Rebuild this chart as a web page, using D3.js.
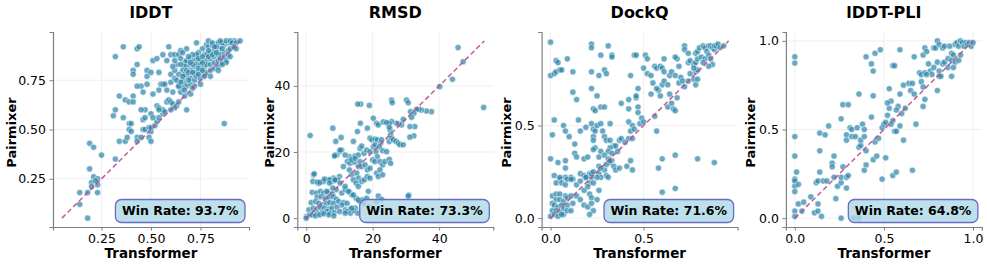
<!DOCTYPE html>
<html>
<head>
  <meta charset="utf-8">
  <script src="https://cdn.jsdelivr.net/npm/d3@7"></script>
  <style>
    body { margin: 0; background: #fff; }
    text { font-family: "DejaVu Sans", sans-serif; }
  </style>
</head>
<body>
<div id="chart"></div>
<script>

// panel titles and win rates
const titles = ["lDDT", "RMSD", "DockQ", "lDDT-PLI"];
const winRates = [93.7, 73.3, 71.6, 64.8];

// [transformer, pairmixer] pairs
const lddtPoints = [
  [0.18,0.05],[0.14,0.12],[0.14,0.18],[0.19,0.43],[0.21,0.41],[0.25,0.37],[0.19,0.30],[0.21,0.26],[0.23,0.25],[0.20,0.23],
  [0.20,0.21],[0.23,0.22],[0.18,0.18],[0.23,0.18],[0.22,0.24],[0.32,0.35],[0.34,0.44],[0.31,0.57],[0.32,0.60],[0.34,0.67],
  [0.36,0.56],[0.37,0.65],[0.39,0.64],[0.41,0.67],[0.41,0.64],[0.37,0.44],[0.38,0.46],[0.39,0.53],[0.40,0.53],[0.39,0.50],
  [0.40,0.49],[0.43,0.46],[0.43,0.44],[0.46,0.50],[0.45,0.46],[0.47,0.50],[0.49,0.46],[0.50,0.44],[0.50,0.49],[0.49,0.51],
  [0.50,0.51],[0.52,0.52],[0.53,0.54],[0.54,0.56],[0.56,0.58],[0.47,0.60],[0.46,0.55],[0.47,0.56],[0.50,0.58],[0.51,0.56],
  [0.45,0.60],[0.36,0.92],[0.32,0.87],[0.43,0.91],[0.44,0.92],[0.43,0.83],[0.41,0.80],[0.41,0.78],[0.48,0.80],[0.48,0.77],
  [0.50,0.79],[0.45,0.72],[0.43,0.72],[0.48,0.73],[0.46,0.69],[0.51,0.68],[0.54,0.70],[0.51,0.85],[0.53,0.86],[0.54,0.79],
  [0.56,0.88],[0.59,0.92],[0.58,0.85],[0.60,0.88],[0.62,0.88],[0.64,0.88],[0.55,0.73],[0.56,0.73],[0.57,0.73],[0.60,0.74],
  [0.60,0.78],[0.63,0.83],[0.65,0.86],[0.68,0.91],[0.68,0.83],[0.69,0.83],[0.73,0.94],[0.53,0.62],[0.54,0.61],[0.56,0.60],
  [0.54,0.60],[0.58,0.64],[0.59,0.65],[0.60,0.64],[0.61,0.63],[0.63,0.62],[0.64,0.64],[0.62,0.61],[0.61,0.69],[0.64,0.72],
  [0.65,0.69],[0.67,0.67],[0.68,0.60],[0.87,0.53],[0.58,0.70],[0.62,0.76],[0.66,0.75],[0.57,0.59],[0.60,0.60],
  [0.67,0.84],[0.68,0.85],[0.70,0.86],[0.72,0.85],[0.73,0.87],[0.75,0.85],[0.77,0.88],[0.78,0.88],[0.80,0.89],[0.82,0.90],
  [0.84,0.91],[0.85,0.92],[0.87,0.93],[0.89,0.94],[0.90,0.94],[0.92,0.95],[0.78,0.93],[0.79,0.92],[0.81,0.93],[0.83,0.93],
  [0.84,0.94],[0.86,0.94],[0.88,0.95],[0.90,0.95],[0.91,0.94],[0.93,0.94],[0.95,0.95],[0.78,0.85],[0.80,0.86],[0.82,0.87],
  [0.84,0.88],[0.85,0.88],[0.87,0.89],[0.89,0.90],[0.90,0.91],[0.92,0.92],[0.72,0.82],[0.73,0.83],[0.75,0.83],[0.77,0.82],
  [0.78,0.83],[0.80,0.83],[0.82,0.84],[0.84,0.85],[0.85,0.86],[0.87,0.87],[0.89,0.88],[0.70,0.80],[0.72,0.78],[0.73,0.79],
  [0.75,0.80],[0.77,0.78],[0.78,0.79],[0.80,0.80],[0.82,0.81],[0.84,0.82],[0.68,0.77],[0.70,0.76],[0.72,0.75],[0.73,0.77],
  [0.75,0.76],[0.77,0.77],[0.67,0.73],[0.68,0.72],[0.70,0.73],[0.72,0.72],[0.66,0.71],[0.67,0.70],[0.64,0.72],[0.76,0.91],
  [0.74,0.89],[0.73,0.88],[0.71,0.88],[0.69,0.87],[0.67,0.82],[0.66,0.80],[0.64,0.78],[0.62,0.80],[0.86,0.84],[0.88,0.85],
  [0.65,0.83],[0.67,0.78],[0.68,0.80],[0.71,0.83],[0.65,0.90],[0.66,0.89],[0.79,0.95],[0.81,0.94],[0.83,0.92],[0.85,0.95],
  [0.62,0.85],[0.61,0.82],[0.80,0.77],[0.84,0.80],[0.88,0.84],[0.90,0.87],[0.75,0.73],[0.86,0.83],[0.70,0.68],[0.93,0.91],
  [0.69,0.79],[0.71,0.79],[0.74,0.81],[0.76,0.84],[0.79,0.87],[0.81,0.88],[0.83,0.89],[0.86,0.91],[0.70,0.84],[0.74,0.86],
  [0.76,0.87],[0.79,0.90],[0.82,0.92],[0.66,0.77],[0.69,0.75],[0.71,0.71],[0.74,0.78],[0.76,0.80],[0.63,0.75],[0.65,0.74]
];

const rmsdPoints = [
  [45.7,51.6],[47.2,47.3],[44.0,42.0],[40.2,39.8],[53.4,33.5],[37.7,32.2],[36.2,32.4],[34.7,32.7],[34.0,32.9],[33.2,32.9],
  [30.2,35.7],[30.7,34.9],[31.4,32.2],[32.4,31.7],[31.7,30.5],[32.7,27.7],[32.4,24.9],[29.2,29.9],[28.7,28.2],[28.0,28.5],
  [27.2,28.7],[25.7,35.7],[25.9,34.9],[25.7,29.2],[25.0,28.7],[25.2,26.7],[25.4,25.2],[16.4,34.5],[15.5,34.5],[19.0,34.1],
  [20.2,30.2],[21.2,28.7],[21.7,28.2],[23.2,29.1],[24.2,28.9],[25.0,27.5],[16.3,28.7],[18.4,27.2],[15.4,26.2],[8.0,27.2],
  [1.2,25.0],[10.5,24.4],[14.2,23.2],[19.2,24.2],[19.7,23.7],[20.7,23.9],[21.4,23.7],[22.4,22.7],[22.7,23.7],[25.0,23.2],
  [25.7,24.2],[26.2,23.7],[27.0,23.2],[27.7,22.7],[28.2,22.2],[29.2,22.2],[31.2,24.5],[31.2,27.7],[10.0,20.1],[9.2,19.1],
  [10.7,20.6],[8.7,19.1],[8.5,18.8],[13.0,18.6],[13.7,18.1],[14.7,18.8],[15.7,19.1],[16.2,21.1],[16.7,21.8],[17.4,19.6],
  [18.2,20.6],[19.2,20.1],[20.2,21.6],[20.7,22.2],[22.0,21.6],[23.0,20.4],[24.2,20.1],[21.0,20.1],[21.4,18.6],[20.0,17.6],
  [20.7,17.1],[22.2,17.1],[23.0,16.1],[23.7,17.1],[25.0,17.8],[25.4,16.6],[11.7,19.1],[12.4,17.1],[13.2,16.6],[14.5,16.9],
  [15.7,15.6],[16.2,17.1],[16.7,15.6],[17.7,16.1],[18.4,14.6],[19.2,15.1],[11.2,15.6],[13.0,14.6],[13.7,13.1],[15.2,13.6],
  [15.7,12.1],[14.2,11.6],[15.0,10.6],[15.7,9.6],[16.7,11.1],[17.5,11.6],[18.4,12.6],[19.2,12.1],[21.2,13.6],[21.7,12.6],
  [22.2,14.6],[23.0,13.1],[18.7,8.1],[21.7,6.7],[30.9,7.0],[10.0,12.6],[9.5,11.6],[8.2,12.1],[7.7,11.1],[2.2,13.1],
  [2.0,11.1],[3.7,10.5],[5.2,11.1],[6.7,11.6],[9.0,8.6],[10.7,7.6],[11.7,8.6],[13.0,7.9],[13.7,7.1],[15.0,6.0],
  [16.2,5.0],[17.0,5.5],[18.2,6.0],[3.3,10.9],[4.1,10.8],[5.5,11.8],[7.1,11.6],[8.5,11.4],[1.8,7.8],[3.1,7.6],
  [4.3,8.1],[5.3,7.6],[6.5,7.8],[7.8,7.4],[3.3,6.3],[4.5,6.5],[5.8,6.0],[6.8,6.3],[8.1,6.5],[9.1,5.7],
  [1.5,4.7],[2.8,5.0],[3.8,4.5],[4.8,4.0],[6.1,4.5],[7.1,4.7],[8.3,4.5],[9.8,5.0],[11.3,4.7],[0.8,2.5],
  [2.1,3.0],[3.1,2.7],[4.3,3.3],[5.5,3.0],[6.8,2.7],[7.8,3.0],[9.3,3.3],[10.8,4.0],[12.3,4.5],[0.1,0.5],
  [1.1,1.0],[2.3,1.5],[3.5,1.3],[4.8,1.7],[6.3,2.0],[7.3,1.5],[8.5,1.7],[10.1,2.0],[11.8,2.5],[13.3,2.7],
  [14.8,3.0],[1.8,1.0],[2.8,0.7],[4.1,1.0],[5.3,1.3],[6.8,1.0],[8.3,0.7],[12.3,2.0],[13.3,1.5],[14.3,2.3],
  [15.5,1.5],[21.2,5.0],[22.7,5.7],[30.7,6.7],[17.2,4.5],[18.7,3.5],[11.7,1.5],[13.7,3.0],[7.0,10.6],[8.0,9.1],
  [8.7,11.6],[10.2,10.6],[11.7,9.6],[12.7,8.1],[6.2,8.1],[14.2,7.0],[15.7,5.5],[0.0,0.0],[8.9,23.2],[10.2,20.6],
  [13.7,17.6],[14.7,18.1],[2.4,13.4]
];

const dockqPoints = [
  [0.00,0.95],[0.22,0.94],[0.22,0.92],[0.31,0.93],[0.27,0.88],[0.33,0.88],[0.33,0.87],[0.03,0.85],[0.04,0.84],[0.09,0.86],
  [0.00,0.77],[0.02,0.78],[0.03,0.79],[0.05,0.80],[0.06,0.80],[0.12,0.79],[0.22,0.79],[0.26,0.77],[0.29,0.80],[0.30,0.78],
  [0.12,0.68],[0.22,0.70],[0.25,0.66],[0.14,0.64],[0.23,0.59],[0.24,0.58],[0.27,0.60],[0.29,0.60],[0.02,0.53],[0.01,0.45],
  [0.07,0.50],[0.08,0.47],[0.10,0.44],[0.13,0.40],[0.15,0.53],[0.16,0.47],[0.19,0.49],[0.22,0.51],[0.23,0.48],[0.23,0.44],
  [0.24,0.47],[0.25,0.50],[0.27,0.51],[0.28,0.47],[0.32,0.51],[0.29,0.44],[0.30,0.42],[0.32,0.42],[0.34,0.39],[0.38,0.62],
  [0.42,0.64],[0.42,0.59],[0.46,0.65],[0.47,0.60],[0.47,0.57],[0.42,0.52],[0.44,0.50],[0.43,0.47],[0.45,0.48],[0.49,0.54],
  [0.48,0.51],[0.50,0.52],[0.37,0.42],[0.38,0.43],[0.40,0.41],[0.42,0.43],[0.44,0.43],[0.35,0.39],[0.32,0.38],[0.31,0.36],
  [0.33,0.35],[0.36,0.36],[0.23,0.42],[0.24,0.38],[0.27,0.36],[0.26,0.33],[0.29,0.34],[0.31,0.32],[0.33,0.31],[0.00,0.32],
  [0.04,0.30],[0.08,0.31],[0.08,0.27],[0.13,0.35],[0.14,0.33],[0.18,0.32],[0.20,0.33],[0.23,0.37],[0.02,0.23],[0.05,0.21],
  [0.08,0.22],[0.11,0.22],[0.12,0.21],[0.16,0.24],[0.18,0.23],[0.19,0.22],[0.21,0.24],[0.22,0.22],[0.21,0.19],[0.23,0.19],
  [0.26,0.28],[0.26,0.24],[0.27,0.22],[0.29,0.26],[0.30,0.23],[0.31,0.22],[0.32,0.30],[0.34,0.28],[0.35,0.26],[0.37,0.27],
  [0.43,0.31],[0.41,0.28],[0.44,0.26],[0.58,0.27],[0.60,0.32],[0.67,0.34],[0.79,0.32],[0.88,0.30],[0.67,0.16],[0.60,0.14],
  [0.57,0.47],[0.56,0.55],[0.54,0.67],[0.58,0.69],[0.59,0.66],[0.47,0.70],[0.46,0.66],[0.43,0.77],[0.45,0.88],[0.46,0.88],
  [0.51,0.88],[0.52,0.86],[0.50,0.81],[0.52,0.78],[0.54,0.77],[0.56,0.82],[0.57,0.81],[0.59,0.82],[0.61,0.86],[0.60,0.81],
  [0.61,0.79],[0.55,0.73],[0.57,0.70],[0.60,0.72],[0.61,0.74],[0.63,0.72],[0.64,0.67],[0.64,0.77],[0.65,0.79],[0.67,0.77],
  [0.69,0.73],[0.68,0.86],[0.69,0.82],[0.67,0.87],[0.63,0.60],[0.66,0.59],[0.67,0.58],[0.65,0.62],[0.68,0.65],[0.72,0.93],
  [0.72,0.91],[0.74,0.89],[0.70,0.76],[0.71,0.74],[0.72,0.71],[0.74,0.74],[0.74,0.84],[0.75,0.85],[0.77,0.83],[0.78,0.84],
  [0.79,0.86],[0.78,0.79],[0.79,0.80],[0.77,0.81],[0.75,0.78],[0.77,0.75],[0.78,0.72],[0.79,0.75],[0.78,0.89],[0.79,0.90],
  [0.80,0.92],[0.82,0.93],[0.83,0.92],[0.84,0.90],[0.85,0.93],[0.86,0.93],[0.87,0.92],[0.88,0.91],[0.88,0.93],[0.89,0.93],
  [0.90,0.94],[0.91,0.92],[0.93,0.93],[0.81,0.87],[0.83,0.86],[0.85,0.88],[0.86,0.86],[0.87,0.83],[0.85,0.82],[0.82,0.84],
  [0.05,0.22],[0.03,0.19],[0.06,0.19],[0.08,0.18],[0.09,0.21],[0.11,0.21],[0.01,0.12],[0.03,0.13],[0.05,0.13],[0.08,0.12],
  [0.03,0.10],[0.05,0.10],[0.07,0.09],[0.09,0.11],[0.11,0.12],[0.01,0.08],[0.02,0.07],[0.04,0.06],[0.06,0.07],[0.07,0.05],
  [0.09,0.07],[0.12,0.08],[0.01,0.04],[0.03,0.04],[0.05,0.03],[0.07,0.02],[0.09,0.04],[0.00,0.01],[0.02,0.02],[0.04,0.01],
  [0.06,0.02],[0.11,0.04],[0.14,0.12],[0.16,0.10],[0.18,0.15],[0.20,0.17],[0.21,0.13],[0.22,0.11],[0.18,0.07],[0.20,0.06],
  [0.22,0.08],[0.23,0.04],[0.25,0.10],[0.26,0.15],[0.14,0.18],[0.16,0.20],[0.19,0.22],[0.22,0.24],[0.23,0.25],[0.25,0.22],
  [0.27,0.27],[0.30,0.29],[0.32,0.31],[0.21,0.02]
];

const pliPoints = [
  [0.00,0.91],[0.00,0.875],[0.00,0.46],[0.00,0.35],[0.00,0.22],[0.00,0.21],[0.00,0.18],[0.00,0.15],[0.00,0.04],[0.00,0.01],
  [0.01,0.26],[0.02,0.19],[0.02,0.08],[0.05,0.09],[0.09,0.12],[0.04,0.04],[0.11,0.03],[0.13,0.04],[0.13,0.08],[0.15,0.01],
  [0.12,0.20],[0.13,0.21],[0.14,0.26],[0.14,0.48],[0.17,0.47],[0.14,0.38],[0.16,0.21],[0.18,0.21],[0.19,0.52],[0.22,0.35],
  [0.21,0.31],[0.21,0.29],[0.22,0.23],[0.23,0.11],[0.24,0.18],[0.26,0.20],[0.26,0.23],[0.27,0.29],[0.29,0.23],[0.29,0.17],
  [0.30,0.24],[0.26,0.56],[0.27,0.64],[0.29,0.47],[0.30,0.64],[0.26,0.00],[0.29,0.44],[0.31,0.51],[0.32,0.50],[0.32,0.46],
  [0.34,0.46],[0.35,0.51],[0.36,0.70],[0.36,0.40],[0.37,0.41],[0.37,0.44],[0.38,0.53],[0.39,0.46],[0.39,0.50],[0.33,0.00],
  [0.36,0.00],[0.40,0.91],[0.43,0.87],[0.44,0.83],[0.45,0.93],[0.48,0.95],[0.44,0.69],[0.43,0.57],[0.40,0.38],[0.40,0.30],
  [0.39,0.27],[0.44,0.33],[0.46,0.35],[0.49,0.22],[0.51,0.34],[0.45,0.43],[0.47,0.45],[0.49,0.51],[0.50,0.53],[0.51,0.54],
  [0.52,0.58],[0.53,0.62],[0.54,0.66],[0.55,0.86],[0.56,0.86],[0.59,0.95],[0.61,0.75],[0.64,0.76],[0.66,0.76],[0.65,0.72],
  [0.59,0.70],[0.58,0.63],[0.57,0.61],[0.55,0.55],[0.56,0.49],[0.57,0.49],[0.59,0.52],[0.61,0.44],[0.60,0.59],[0.62,0.62],
  [0.54,0.53],[0.55,0.24],[0.57,0.26],[0.66,0.27],[0.68,0.53],[0.67,0.70],[0.71,0.77],[0.72,0.74],[0.73,0.67],[0.72,0.63],
  [0.53,0.73],[0.52,0.65],[0.67,0.91],[0.72,0.92],[0.73,0.96],[0.74,0.94],[0.75,0.87],[0.76,0.83],[0.77,0.81],[0.78,0.96],
  [0.79,0.96],[0.80,0.88],[0.81,0.83],[0.81,0.80],[0.83,0.87],[0.80,0.72],[0.82,0.80],[0.84,0.88],[0.86,0.90],[0.70,0.82],
  [0.71,0.81],[0.73,0.82],[0.74,0.81],[0.78,0.85],[0.80,1.00],[0.81,0.98],[0.83,0.96],[0.84,0.97],[0.87,0.97],[0.88,0.93],
  [0.89,0.92],[0.90,0.98],[0.91,0.99],[0.92,0.97],[0.93,1.00],[0.94,0.99],[0.95,0.97],[0.96,0.99],[0.97,0.98],[0.98,0.99],
  [0.99,0.97],[1.00,0.99],[0.88,0.89],[0.90,0.88],[0.92,0.89],[0.93,0.92],[0.88,0.80],[0.86,0.85],[0.89,0.85]
];

// axis limits, ticks and the y = x reference segment for each panel
const domains = [[0.005, 0.995], [-2.68, 56.3], [-0.048, 1.005], [-0.05, 1.05]];
const tickValues = [[0.25, 0.5, 0.75], [0, 20, 40], [0, 0.5], [0, 0.5, 1]];
const tickFormats = [".2f", "d", ".1f", ".1f"];
const diagonals = [[0.05, 0.95], [0, 53.6], [0, 0.957], [0, 1]];

const allPoints = [lddtPoints, rmsdPoints, dockqPoints, pliPoints];

// layout
var width = 987, height = 265;
var plotW = 196, plotH = 195, top0 = 32, left0 = 53, step = 244.3;
var yLabelOffset = [42, 28, 35, 35];

const svg = d3.select("#chart")
  .append("svg")
    .attr("width", width)
    .attr("height", height);

titles.forEach(function(title, i) {
  const g = svg.append("g")
    .attr("transform", `translate(${left0 + i * step},${top0})`);

  const x = d3.scaleLinear().domain(domains[i]).range([0, plotW]);
  const y = d3.scaleLinear().domain(domains[i]).range([plotH, 0]);

  // grid lines
  g.append("g").selectAll("line")
    .data(tickValues[i])
    .join("line")
      .attr("x1", d => x(d)).attr("x2", d => x(d))
      .attr("y1", 0).attr("y2", plotH)
      .attr("stroke", "#ebebeb").attr("stroke-width", 0.8);
  g.append("g").selectAll("line")
    .data(tickValues[i])
    .join("line")
      .attr("x1", 0).attr("x2", plotW)
      .attr("y1", d => y(d)).attr("y2", d => y(d))
      .attr("stroke", "#ebebeb").attr("stroke-width", 0.8);

  // axes
  const xAxis = g.append("g")
    .attr("transform", `translate(0,${plotH})`)
    .call(d3.axisBottom(x).tickValues(tickValues[i]).tickFormat(d3.format(tickFormats[i]))
      .tickSizeOuter(0).tickSize(3.5).tickPadding(3.5));
  const yAxis = g.append("g")
    .call(d3.axisLeft(y).tickValues(tickValues[i]).tickFormat(d3.format(tickFormats[i]))
      .tickSizeOuter(0).tickSize(3.5).tickPadding(3.5));

  [xAxis, yAxis].forEach(function(a) {
    a.select(".domain").attr("stroke", "#808080").attr("stroke-width", 1.2);
    a.selectAll(".tick line").attr("stroke", "#808080").attr("stroke-width", 1);
    a.selectAll(".tick text")
      .attr("fill", "#000")
      .style("font-size", "12.5px")
      .style("font-family", "DejaVu Sans, sans-serif");
  });

  // points
  g.append("g").selectAll("circle")
    .data(allPoints[i])
    .join("circle")
      .attr("cx", d => x(d[0]))
      .attr("cy", d => y(d[1]))
      .attr("r", 3.1)
      .attr("fill", "#2e86ab")
      .attr("fill-opacity", 0.72)
      .attr("stroke", "#fff")
      .attr("stroke-width", 0.5);

  // y = x dashed line
  const dg = diagonals[i];
  g.append("line")
    .attr("x1", x(dg[0])).attr("y1", y(dg[0]))
    .attr("x2", x(dg[1])).attr("y2", y(dg[1]))
    .attr("stroke", "#bf4a88")
    .attr("stroke-opacity", 0.9)
    .attr("stroke-width", 1.5)
    .attr("stroke-dasharray", "5,3");

  // title
  g.append("text")
    .attr("x", plotW / 2)
    .attr("y", 17.5 - top0)
    .attr("text-anchor", "middle")
    .style("font-size", "16px")
    .style("font-weight", "bold")
    .text(title);

  // axis labels
  g.append("text")
    .attr("x", plotW / 2)
    .attr("y", plotH + 31)
    .attr("text-anchor", "middle")
    .style("font-size", "13.5px")
    .style("font-weight", "bold")
    .text("Transformer");

  g.append("text")
    .attr("transform", `translate(${-yLabelOffset[i]},${plotH / 2 + 3}) rotate(-90)`)
    .attr("text-anchor", "middle")
    .attr("dy", "0.35em")
    .style("font-size", "13px")
    .style("font-weight", "bold")
    .text("Pairmixer");

  // win rate box
  const box = g.append("g");
  const rect = box.append("rect");
  const label = box.append("text")
    .attr("text-anchor", "middle")
    .attr("dy", "0.35em")
    .style("font-size", "12.5px")
    .style("font-weight", "bold")
    .text(`Win Rate: ${winRates[i].toFixed(1)}%`);
  const tw = label.node().getComputedTextLength();
  const bw = tw + 13, bh = 23;
  const bx = plotW - 4 - bw, by = plotH - 4.5 - bh;
  rect
    .attr("x", bx).attr("y", by)
    .attr("width", bw).attr("height", bh)
    .attr("rx", 6).attr("ry", 6)
    .attr("fill", "#add8e6")
    .attr("fill-opacity", 0.8)
    .attr("stroke", "#6a6ac8")
    .attr("stroke-width", 1.3);
  label.attr("x", bx + bw / 2).attr("y", by + bh / 2);
});

</script>
</body>
</html>
